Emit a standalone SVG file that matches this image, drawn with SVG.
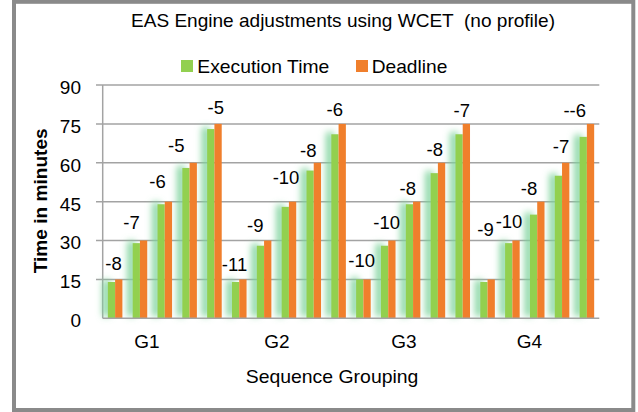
<svg xmlns="http://www.w3.org/2000/svg" width="638" height="412" viewBox="0 0 638 412">
<style>
.t{font-family:"Liberation Sans",Arial,sans-serif;fill:#000;}
.ttl{font-size:18.5px;white-space:pre;}
.leg{font-size:18.5px;}
.ax{font-size:19px;text-anchor:end;}
.cat{font-size:19px;text-anchor:middle;}
.dl{font-size:18.5px;text-anchor:middle;}
.grid{stroke:#a3a3a3;stroke-width:1.5;fill:none;}
.g{fill:#92d050;}
.o{fill:#f07f2c;}
</style>
<defs>
<filter id="glow" x="-200%" y="-20%" width="500%" height="140%">
<feGaussianBlur in="SourceAlpha" stdDeviation="3.5" result="b"/>
<feOffset in="b" dx="-5" dy="-2" result="bo"/>
<feFlood flood-color="#7ed39c" flood-opacity="1"/>
<feComposite in2="bo" operator="in" result="gl"/>
<feMerge><feMergeNode in="gl"/><feMergeNode in="SourceGraphic"/></feMerge>
</filter>
</defs>
<rect x="0" y="0" width="638" height="412" fill="#fff"/>
<rect id="frame" x="14" y="1.8" width="619.3" height="408.2" fill="#fff" stroke="#8a8a8a" stroke-width="4"/>
<text id="title" class="t ttl" x="131" y="27" textLength="424" lengthAdjust="spacingAndGlyphs">EAS Engine adjustments using WCET  (no profile)</text>
<g id="legend">
<rect class="g" x="181" y="60" width="12" height="12"/>
<text class="t leg" x="197.3" y="73.3" textLength="132" lengthAdjust="spacingAndGlyphs">Execution Time</text>
<rect class="o" x="356" y="60" width="12" height="12"/>
<text class="t leg" x="371.7" y="73.3" textLength="75.6" lengthAdjust="spacingAndGlyphs">Deadline</text>
</g>
<g id="grid">
<line class="grid" x1="96" y1="85" x2="599.3" y2="85"/>
<line class="grid" x1="96" y1="123.88" x2="599.3" y2="123.88"/>
<line class="grid" x1="96" y1="162.77" x2="599.3" y2="162.77"/>
<line class="grid" x1="96" y1="201.65" x2="599.3" y2="201.65"/>
<line class="grid" x1="96" y1="240.53" x2="599.3" y2="240.53"/>
<line class="grid" x1="96" y1="279.42" x2="599.3" y2="279.42"/>
<line class="grid" x1="102.7" y1="85" x2="102.7" y2="318.3"/>
</g>
<g id="y-labels">
<text class="t ax" x="81" y="93.8">90</text>
<text class="t ax" x="81" y="132.7">75</text>
<text class="t ax" x="81" y="171.6">60</text>
<text class="t ax" x="81" y="210.5">45</text>
<text class="t ax" x="81" y="249.3">30</text>
<text class="t ax" x="81" y="288.2">15</text>
<text class="t ax" x="81" y="327.1">0</text>
</g>
<text id="y-title" class="t" font-size="18.5" font-weight="bold" text-anchor="middle" transform="translate(46.5,200.8) rotate(-90)" textLength="145" lengthAdjust="spacingAndGlyphs">Time in minutes</text>
<g id="exec-bars" filter="url(#glow)">
<rect class="g" x="107.8" y="282.01" width="7.3" height="36.29"/>
<rect class="g" x="132.63" y="243.13" width="7.3" height="75.17"/>
<rect class="g" x="157.46" y="204.24" width="7.3" height="114.06"/>
<rect class="g" x="182.29" y="167.95" width="7.3" height="150.35"/>
<rect class="g" x="207.12" y="129.07" width="7.3" height="189.23"/>
<rect class="g" x="231.95" y="282.01" width="7.3" height="36.29"/>
<rect class="g" x="256.78" y="245.72" width="7.3" height="72.58"/>
<rect class="g" x="281.61" y="206.84" width="7.3" height="111.46"/>
<rect class="g" x="306.44" y="170.54" width="7.3" height="147.76"/>
<rect class="g" x="331.27" y="134.25" width="7.3" height="184.05"/>
<rect class="g" x="356.1" y="279.42" width="7.3" height="38.88"/>
<rect class="g" x="380.93" y="245.72" width="7.3" height="72.58"/>
<rect class="g" x="405.76" y="204.24" width="7.3" height="114.06"/>
<rect class="g" x="430.59" y="173.14" width="7.3" height="145.16"/>
<rect class="g" x="455.42" y="134.25" width="7.3" height="184.05"/>
<rect class="g" x="480.25" y="282.01" width="7.3" height="36.29"/>
<rect class="g" x="505.08" y="243.13" width="7.3" height="75.17"/>
<rect class="g" x="529.91" y="214.61" width="7.3" height="103.69"/>
<rect class="g" x="554.74" y="175.73" width="7.3" height="142.57"/>
<rect class="g" x="579.57" y="136.85" width="7.3" height="181.45"/>
</g>
<g id="deadline-bars">
<rect class="o" x="115.1" y="279.42" width="7.3" height="38.88"/>
<rect class="o" x="139.93" y="240.53" width="7.3" height="77.77"/>
<rect class="o" x="164.76" y="201.65" width="7.3" height="116.65"/>
<rect class="o" x="189.59" y="162.77" width="7.3" height="155.53"/>
<rect class="o" x="214.42" y="123.88" width="7.3" height="194.42"/>
<rect class="o" x="239.25" y="279.42" width="7.3" height="38.88"/>
<rect class="o" x="264.08" y="240.53" width="7.3" height="77.77"/>
<rect class="o" x="288.91" y="201.65" width="7.3" height="116.65"/>
<rect class="o" x="313.74" y="162.77" width="7.3" height="155.53"/>
<rect class="o" x="338.57" y="123.88" width="7.3" height="194.42"/>
<rect class="o" x="363.4" y="279.42" width="7.3" height="38.88"/>
<rect class="o" x="388.23" y="240.53" width="7.3" height="77.77"/>
<rect class="o" x="413.06" y="201.65" width="7.3" height="116.65"/>
<rect class="o" x="437.89" y="162.77" width="7.3" height="155.53"/>
<rect class="o" x="462.72" y="123.88" width="7.3" height="194.42"/>
<rect class="o" x="487.55" y="279.42" width="7.3" height="38.88"/>
<rect class="o" x="512.38" y="240.53" width="7.3" height="77.77"/>
<rect class="o" x="537.21" y="201.65" width="7.3" height="116.65"/>
<rect class="o" x="562.04" y="162.77" width="7.3" height="155.53"/>
<rect class="o" x="586.87" y="123.88" width="7.3" height="194.42"/>
</g>
<line id="x-axis" class="grid" x1="102.7" y1="318.3" x2="599.3" y2="318.3"/>
<g id="data-labels">
<text class="t dl" x="113.5" y="269.5">-8</text>
<text class="t dl" x="131.5" y="229.2">-7</text>
<text class="t dl" x="157.5" y="188.2">-6</text>
<text class="t dl" x="176.3" y="151.5">-5</text>
<text class="t dl" x="215.7" y="113.8">-5</text>
<text class="t dl" x="234.5" y="270.8">-11</text>
<text class="t dl" x="255.3" y="231.5">-9</text>
<text class="t dl" x="286" y="184.2">-10</text>
<text class="t dl" x="308.3" y="156.5">-8</text>
<text class="t dl" x="334.7" y="115.8">-6</text>
<text class="t dl" x="361.7" y="266.5">-10</text>
<text class="t dl" x="386.7" y="229.2">-10</text>
<text class="t dl" x="407.7" y="194.8">-8</text>
<text class="t dl" x="434.7" y="155.5">-8</text>
<text class="t dl" x="461.7" y="117.2">-7</text>
<text class="t dl" x="485.5" y="236">-9</text>
<text class="t dl" x="509" y="228.2">-10</text>
<text class="t dl" x="529" y="194.8">-8</text>
<text class="t dl" x="561" y="152.5">-7</text>
<text class="t dl" x="574.7" y="117.2">--6</text>
</g>
<g id="x-labels">
<text class="t cat" x="147" y="348.3">G1</text>
<text class="t cat" x="277" y="348.3">G2</text>
<text class="t cat" x="404" y="348.3">G3</text>
<text class="t cat" x="529.5" y="348.3">G4</text>
</g>
<text id="x-title" class="t" font-size="19" x="245.7" y="383.3" textLength="172.7" lengthAdjust="spacingAndGlyphs">Sequence Grouping</text>
</svg>
